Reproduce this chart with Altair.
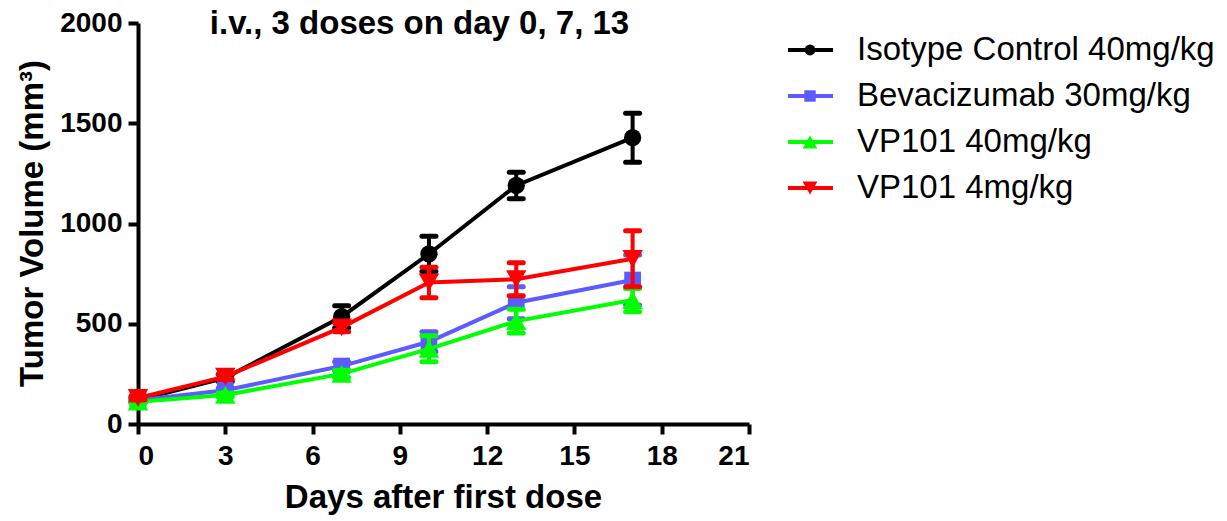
import altair as alt
import pandas as pd

# Days on which tumours were measured
days = [0, 3, 7, 10, 13, 17]

series_names = [
    "Isotype Control 40mg/kg",
    "Bevacizumab 30mg/kg",
    "VP101 40mg/kg",
    "VP101 4mg/kg",
]
series_colors = ["#000000", "#5B5BFF", "#00FF00", "#FF0000"]
series_shapes = ["circle", "square", "triangle-up", "triangle-down"]
marker_sizes = [300, 280, 420, 420]
legend_marker_sizes = [120, 130, 220, 220]

# Mean tumour volume (mm^3) and error (SEM) per group
isotype_mean = [120, 230, 535, 848, 1190, 1428]
isotype_err = [12, 18, 55, 88, 66, 122]
bev_mean = [118, 168, 289, 410, 605, 718]
bev_err = [10, 12, 22, 50, 80, 125]
vp40_mean = [111, 145, 250, 375, 513, 618]
vp40_err = [8, 10, 18, 65, 59, 58]
vp4_mean = [130, 236, 482, 706, 722, 824]
vp4_err = [10, 14, 22, 76, 82, 140]

x_ticks = [0, 3, 6, 9, 12, 15, 18, 21]
y_ticks = [0, 500, 1000, 1500, 2000]

means = [isotype_mean, bev_mean, vp40_mean, vp4_mean]
errs = [isotype_err, bev_err, vp40_err, vp4_err]

rows = []
for name, m, e in zip(series_names, means, errs):
    for d, mv, ev in zip(days, m, e):
        rows.append({"series": name, "day": d, "mean": mv, "lo": mv - ev, "hi": mv + ev})
df = pd.DataFrame(rows)

FONT = "Liberation Sans"

x_enc = alt.X(
    "day:Q",
    scale=alt.Scale(domain=[0, 21], nice=False, zero=False),
    axis=alt.Axis(
        values=x_ticks,
        title="Days after first dose",
        labelFont=FONT,
        labelFontSize=28,
        labelFontWeight="bold",
        labelPadding=8,
        titleX=305,
        titleY=73,
        titleBaseline="middle",
        titleAlign="center",
    ),
)
y_domain = alt.Scale(domain=[0, 2000], nice=False)
y_axis = alt.Axis(
    values=y_ticks,
    format="d",
    title="Tumor Volume (mm³)",
    labelFont=FONT,
    labelFontSize=28,
    labelFontWeight="bold",
    labelPadding=6,
    titleX=-106,
    titleY=200,
    titleAngle=270,
    titleAlign="center",
    titleBaseline="middle",
)

layers = []
for name, color, shape, msize in zip(series_names, series_colors, series_shapes, marker_sizes):
    base = alt.Chart(df).transform_filter(alt.datum.series == name)
    line = base.mark_line(color=color, strokeWidth=4).encode(
        x=x_enc, y=alt.Y("mean:Q", scale=y_domain, axis=y_axis)
    )
    stem = base.mark_rule(color=color, strokeWidth=4).encode(
        x=x_enc, y=alt.Y("lo:Q", scale=y_domain, axis=y_axis), y2=alt.Y2("hi")
    )
    cap_hi = base.mark_rule(
        color=color, strokeWidth=5, strokeCap="round", xOffset=-7, x2Offset=7
    ).encode(x=x_enc, x2=alt.X2("day"), y=alt.Y("hi:Q", scale=y_domain, axis=y_axis))
    cap_lo = base.mark_rule(
        color=color, strokeWidth=5, strokeCap="round", xOffset=-7, x2Offset=7
    ).encode(x=x_enc, x2=alt.X2("day"), y=alt.Y("lo:Q", scale=y_domain, axis=y_axis))
    pts = base.mark_point(
        color=color, fill=color, filled=True, opacity=1, shape=shape, size=msize
    ).encode(x=x_enc, y=alt.Y("mean:Q", scale=y_domain, axis=y_axis))
    layers += [line, stem, cap_hi, cap_lo, pts]

plot = alt.layer(*layers)

# Legend drawn beside the plot: line + marker + label for each group
legend_df = pd.DataFrame({"series": series_names})
row_y = alt.Y(
    "series:N",
    sort=series_names,
    axis=None,
    scale=alt.Scale(type="point", domain=series_names, range=[27, 165], padding=0),
)
leg_layers = []
for name, color, shape, lsize in zip(series_names, series_colors, series_shapes, legend_marker_sizes):
    row = alt.Chart(legend_df).transform_filter(alt.datum.series == name)
    leg_layers.append(
        row.mark_rule(strokeWidth=4, color=color).encode(
            x=alt.value(650), x2=alt.value(695), y=row_y
        )
    )
    leg_layers.append(
        row.mark_point(filled=True, opacity=1, color=color, fill=color, shape=shape, size=lsize).encode(
            x=alt.value(672), y=row_y
        )
    )
    leg_layers.append(
        row.mark_text(
            align="left", baseline="middle", fontSize=33, font=FONT, color="black"
        ).encode(x=alt.value(719), y=row_y, text="series:N")
    )
legend = alt.layer(*leg_layers)

chart = (
    alt.layer(plot, legend)
    .resolve_scale(y="independent", x="independent")
    .properties(
        width=611,
        height=401,
        background="white",
        autosize=alt.AutoSizeParams(type="none"),
        padding={"left": 138, "top": 23, "right": 478, "bottom": 97},
        title=alt.TitleParams(
            "i.v., 3 doses on day 0, 7, 13",
            font=FONT,
            fontSize=33,
            fontWeight="bold",
            color="black",
            anchor="middle",
            dx=-24,
            dy=43,
            offset=-15,
            baseline="alphabetic",
        ),
    )
    .configure_view(stroke=None)
    .configure_axis(
        grid=False,
        domainColor="black",
        domainWidth=4,
        tickColor="black",
        tickWidth=4,
        tickSize=10,
        labelColor="black",
        titleFont=FONT,
        titleFontSize=33,
        titleFontWeight="bold",
        titleColor="black",
    )
)

chart.save("out.html", embed_options={"renderer": "svg", "actions": False})
